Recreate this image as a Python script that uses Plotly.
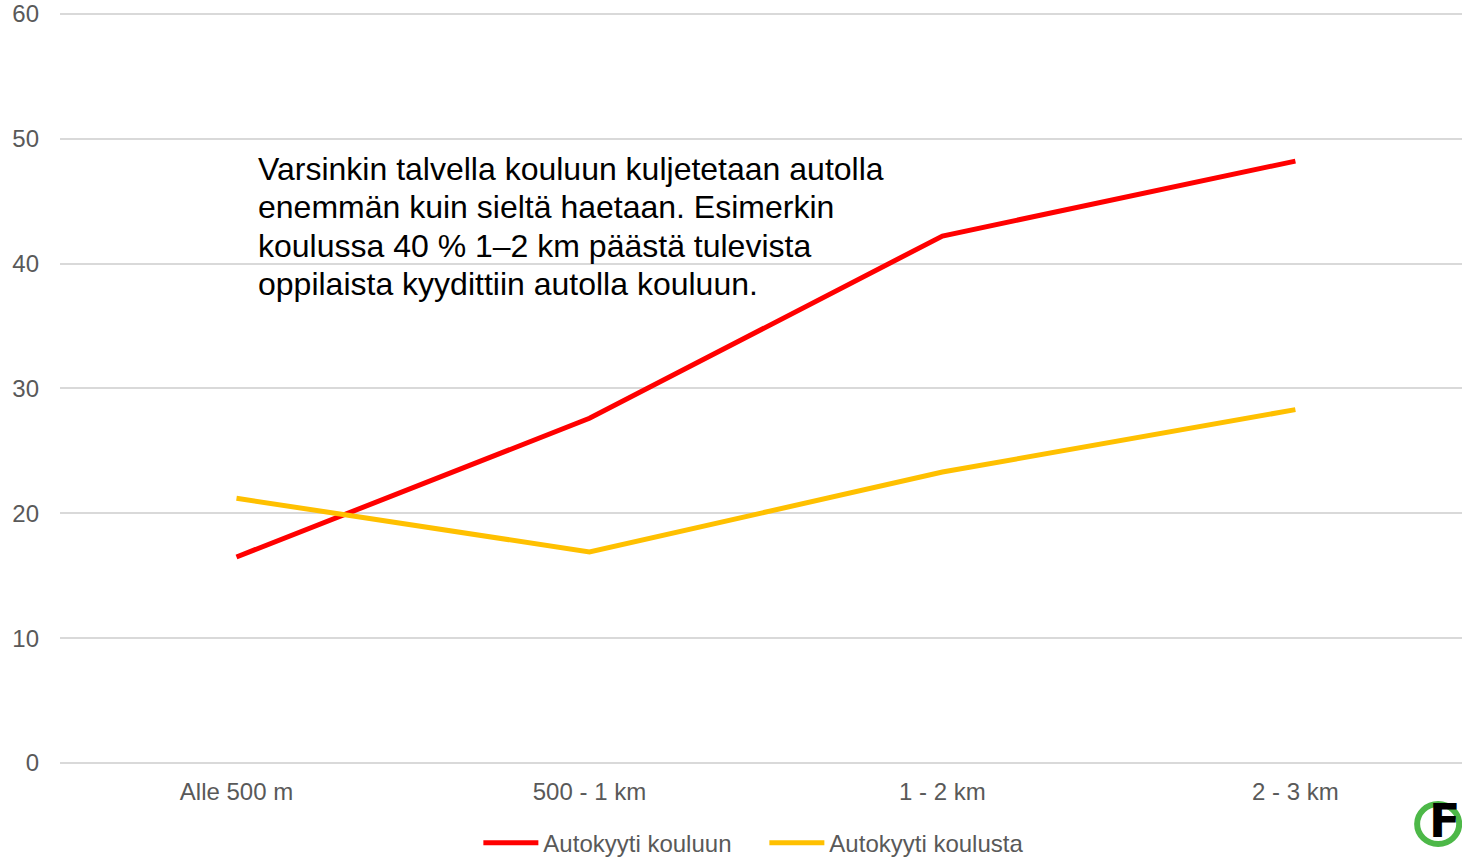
import plotly.graph_objects as go

# distance categories and shares (%)
categories = ["Alle 500 m", "500 - 1 km", "1 - 2 km", "2 - 3 km"]
kouluun = [16.5, 27.6, 42.2, 48.2]
koulusta = [21.2, 16.9, 23.3, 28.3]

note_lines = ["Varsinkin talvella kouluun kuljetetaan autolla",
              "enemmän kuin sieltä haetaan. Esimerkin",
              "koulussa 40 % 1–2 km päästä tulevista",
              "oppilaista kyydittiin autolla kouluun."]

fig = go.Figure()
fig.add_trace(go.Scatter(x=categories, y=kouluun, name="Autokyyti kouluun",
                         mode="lines", line=dict(color="#ff0000", width=5)))
fig.add_trace(go.Scatter(x=categories, y=koulusta, name="Autokyyti koulusta",
                         mode="lines", line=dict(color="#ffc000", width=5)))

grey = "#595959"
fig.update_layout(
    width=1462, height=857,
    margin=dict(l=60, r=0, t=10, b=94),
    paper_bgcolor="white", plot_bgcolor="white",
    font=dict(family="Liberation Sans, Arial, sans-serif", size=24, color=grey),
    showlegend=True,
    legend=dict(orientation="h", x=0.5024, xanchor="center",
                yref="container", y=0.0163, yanchor="middle",
                font=dict(size=24, color=grey), itemwidth=55, entrywidth=216,
                bgcolor="rgba(0,0,0,0)"),
    xaxis=dict(range=[-0.5, 3.472], showgrid=False, zeroline=False,
               showline=False, ticks="", ticklabelstandoff=12),
    yaxis=dict(range=[0, 60.3], tickvals=[0, 10, 20, 30, 40, 50, 60],
               showgrid=True, gridcolor="#d9d9d9",
               gridwidth=1.5, zeroline=True, zerolinecolor="#d9d9d9", zerolinewidth=1.5,
               showline=False, ticks="", ticklabelstandoff=20),
)

# note text, one annotation per line (tighter line spacing than <br>)
plot_h = 857 - 94 - 10
for i, line in enumerate(note_lines):
    fig.add_annotation(text=line, xref="paper", yref="paper",
                       x=0.1398, y=(763 - (168.5 + 38.5 * i)) / plot_h,
                       xanchor="left", yanchor="middle", align="left", showarrow=False,
                       font=dict(family="Liberation Sans, Arial, sans-serif", size=32,
                                 color="black"))

# cropped logo in the lower right corner
fig.add_shape(type="circle", xref="paper", yref="paper",
              x0=0.968, x1=0.998, y0=(763 - 844) / plot_h, y1=(763 - 804) / plot_h,
              line=dict(color="#4db848", width=6))
fig.add_annotation(text="<b>F</b>", xref="paper", yref="paper", x=1.0,
                   y=(763 - 821) / plot_h,
                   xanchor="right", yanchor="middle", showarrow=False,
                   font=dict(family="DejaVu Sans, sans-serif", size=46, color="black"))

fig.write_html("out.html", config={"displayModeBar": False},
               post_script="document.body.style.margin='0';"
                           "document.body.style.overflow='hidden';")
